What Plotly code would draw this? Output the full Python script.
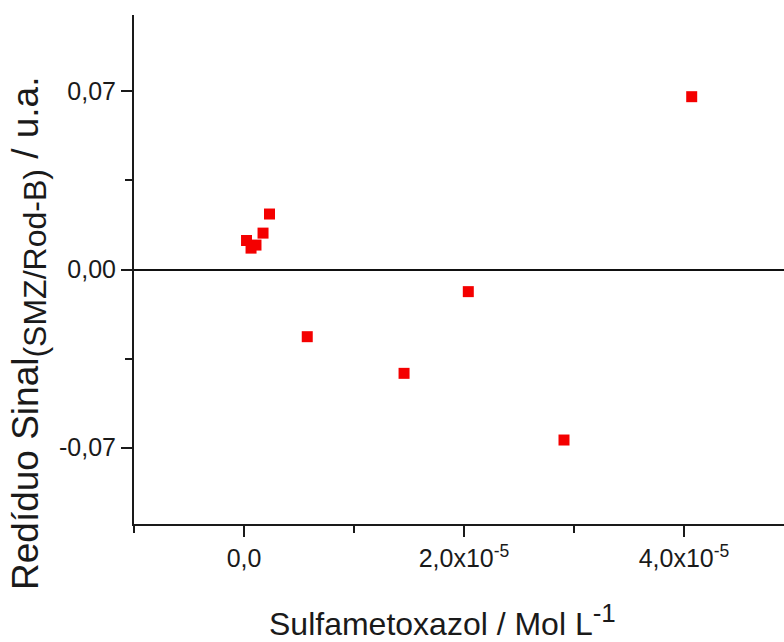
import plotly.graph_objects as go

# Residuals of the SMZ/Rod-B signal versus sulfamethoxazole concentration
concentracao = [0.023e-5, 0.064e-5, 0.109e-5, 0.173e-5, 0.232e-5,
                0.575e-5, 1.455e-5, 2.039e-5, 2.909e-5, 4.07e-5]
residuo = [0.0114, 0.0084, 0.0096, 0.0143, 0.0218,
           -0.0264, -0.0408, -0.0087, -0.0670, 0.0679]

x_tickvals = [0, 2e-5, 4e-5]
x_ticktext = ["0,0", "2,0x10<sup>-5</sup>", "4,0x10<sup>-5</sup>"]
y_tickvals = [-0.07, 0.0, 0.07]
y_ticktext = ["-0,07", "0,00", "0,07"]

W, H = 784, 642
L, R, T, B = 134, 0, 15, 118

FONT = "Liberation Sans, Arial, sans-serif"
INK = "#1a1a1a"

fig = go.Figure()
fig.add_trace(go.Scatter(
    x=concentracao, y=residuo, mode="markers",
    marker=dict(symbol="square", size=11, color="#f40000",
                line=dict(width=0)),
    cliponaxis=False, showlegend=False,
))

axis_font = dict(family=FONT, size=25, color=INK)

fig.update_layout(
    width=W, height=H,
    margin=dict(l=L, r=R, t=T, b=B),
    paper_bgcolor="white", plot_bgcolor="white",
    xaxis=dict(
        range=[-1e-5, 4.909e-5],
        tickmode="array", tickvals=x_tickvals, ticktext=x_ticktext,
        ticks="outside", ticklen=11, tickwidth=2, tickcolor=INK,
        minor=dict(tick0=0, dtick=1e-5, ticks="outside", ticklen=7,
                   tickwidth=2, tickcolor=INK),
        showline=True, linewidth=2, linecolor=INK,
        showgrid=False, zeroline=False,
        tickfont=axis_font,
    ),
    yaxis=dict(
        range=[-0.1, 0.1],
        tickmode="array", tickvals=y_tickvals, ticktext=y_ticktext,
        ticks="outside", ticklen=11, tickwidth=2, tickcolor=INK,
        minor=dict(tickmode="array", tickvals=[-0.035, 0.035], ticks="outside",
                   ticklen=7, tickwidth=2, tickcolor=INK),
        showline=True, linewidth=2, linecolor=INK,
        showgrid=False,
        zeroline=True, zerolinecolor="#111111", zerolinewidth=2,
        tickfont=axis_font,
    ),
    font=dict(family=FONT, color=INK),
)

pw = W - L - R
ph = H - T - B

fig.add_annotation(
    text="Sulfametoxazol / Mol L<sup><span style='font-size:26px'>-1</span></sup>",
    xref="paper", yref="paper",
    x=(442 - L) / pw, y=-(620 - (H - B)) / ph,
    xanchor="center", yanchor="middle", showarrow=False,
    font=dict(family=FONT, size=32, color=INK),
)

fig.add_annotation(
    text="Redíduo Sinal<sub><span style='font-size:32px'>(SMZ/Rod-B)</span></sub> / u.a.",
    xref="paper", yref="paper",
    x=(29 - L) / pw, y=(H - B - 334) / ph,
    xanchor="center", yanchor="middle", textangle=-90, showarrow=False,
    font=dict(family=FONT, size=37, color=INK),
)

fig.write_html("out.html")
